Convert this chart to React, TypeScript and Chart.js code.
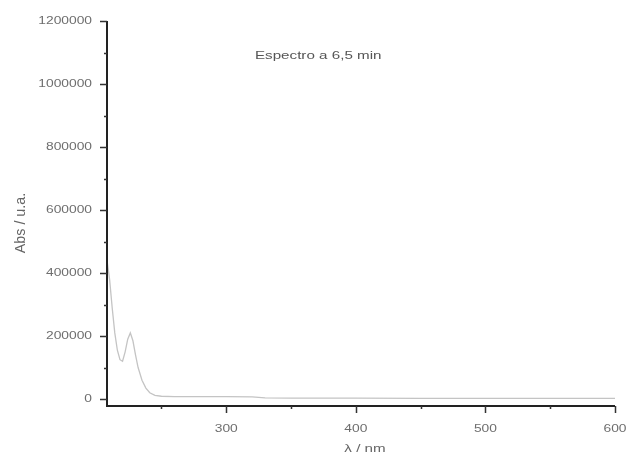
import React, { useEffect, useRef } from "react";
import { Chart, registerables } from "chart.js";

Chart.register(...registerables);

const wavelengths = [208, 210, 212, 214, 216, 218, 220, 222, 224, 226, 228, 230, 232, 235, 238, 241, 245, 250, 260, 280, 300, 320, 330, 350, 400, 450, 500, 550, 600];
const absorbance = [440000, 380000, 290000, 210000, 155000, 125000, 120000, 150000, 190000, 210000, 185000, 140000, 100000, 60000, 35000, 20000, 12000, 9000, 8000, 8000, 8000, 7000, 4000, 3000, 3000, 2500, 2500, 2000, 2000];

const xMajorTicks = [300, 400, 500, 600];
const xMinorTicks = [250, 350, 450, 550];
const yMajorTicks = [0, 200000, 400000, 600000, 800000, 1000000, 1200000];
const yMinorTicks = [100000, 300000, 500000, 700000, 900000, 1100000];

const chartTitle = "Espectro a 6,5 min";
const xTitle = "λ / nm";
const yTitle = "Abs / u.a.";

const FONT = "'Liberation Sans', Arial, sans-serif";
const STRETCH = 1.38;

function stretchedText(ctx: CanvasRenderingContext2D, text: string, x: number, y: number, align: CanvasTextAlign, size: number, color: string, rotate = 0) {
  ctx.save();
  ctx.translate(x, y);
  if (rotate) ctx.rotate(rotate);
  ctx.scale(rotate ? 1.3 : STRETCH, rotate ? STRETCH : 1);
  ctx.font = `${size}px ${FONT}`;
  ctx.fillStyle = color;
  ctx.textAlign = align;
  ctx.textBaseline = "middle";
  ctx.fillText(text, 0, 0);
  ctx.restore();
}

const axesPlugin = {
  id: "customAxes",
  afterDraw(chart: any) {
    const ctx: CanvasRenderingContext2D = chart.ctx;
    const xs = chart.scales.x;
    const ys = chart.scales.y;
    const a = chart.chartArea;
    ctx.save();
    ctx.strokeStyle = "#222";
    ctx.lineWidth = 2;
    ctx.beginPath();
    ctx.moveTo(a.left, a.top);
    ctx.lineTo(a.left, a.bottom);
    ctx.lineTo(a.right, a.bottom);
    ctx.stroke();

    ctx.lineWidth = 1.5;
    ctx.strokeStyle = "#333";
    ctx.beginPath();
    for (const v of yMajorTicks) {
      const py = Math.round(ys.getPixelForValue(v)) + 0.5;
      ctx.moveTo(a.left - 7, py);
      ctx.lineTo(a.left, py);
    }
    for (const v of yMinorTicks) {
      const py = Math.round(ys.getPixelForValue(v)) + 0.5;
      ctx.moveTo(a.left - 3, py);
      ctx.lineTo(a.left, py);
    }
    for (const v of xMajorTicks) {
      const px = Math.round(xs.getPixelForValue(v)) + 0.5;
      ctx.moveTo(px, a.bottom);
      ctx.lineTo(px, a.bottom + 7);
    }
    for (const v of xMinorTicks) {
      const px = Math.round(xs.getPixelForValue(v)) + 0.5;
      ctx.moveTo(px, a.bottom);
      ctx.lineTo(px, a.bottom + 3);
    }
    ctx.stroke();

    const labelColor = "#6e6e6e";
    for (const v of yMajorTicks) {
      stretchedText(ctx, String(v), a.left - 15, ys.getPixelForValue(v), "right", 10, labelColor);
    }
    for (const v of xMajorTicks) {
      stretchedText(ctx, String(v), xs.getPixelForValue(v), 429, "center", 10, labelColor);
    }
    stretchedText(ctx, xTitle, (a.left + a.right) / 2 + 4, 449, "center", 11, "#666");
    stretchedText(ctx, yTitle, 21, 223, "center", 11, "#666", -Math.PI / 2);
    stretchedText(ctx, chartTitle, xs.getPixelForValue(371), ys.getPixelForValue(1090000), "center", 11, "#555");
    ctx.restore();
  },
};

export default function App() {
  const ref = useRef<HTMLCanvasElement | null>(null);
  useEffect(() => {
    if (!ref.current) return;
    const chart = new Chart(ref.current, {
      type: "line",
      data: {
        datasets: [
          {
            data: wavelengths.map((w, i) => ({ x: w, y: absorbance[i] })),
            borderColor: "#c4c4c4",
            borderWidth: 1.3,
            pointRadius: 0,
            tension: 0,
            fill: false,
          },
        ],
      },
      options: {
        responsive: false,
        animation: false,
        devicePixelRatio: 1,
        layout: { padding: { left: 107, right: 21, top: 21, bottom: 50 } },
        plugins: { legend: { display: false }, tooltip: { enabled: false } },
        scales: {
          x: { type: "linear", min: 208, max: 600, display: false },
          y: { type: "linear", min: -22000, max: 1200000, display: false },
        },
      },
      plugins: [axesPlugin],
    });
    return () => chart.destroy();
  }, []);
  return (
    <div style={{ position: "absolute", left: 0, top: 0, width: 636, height: 456, background: "#fff" }}>
      <canvas ref={ref} width={636} height={456} />
    </div>
  );
}
